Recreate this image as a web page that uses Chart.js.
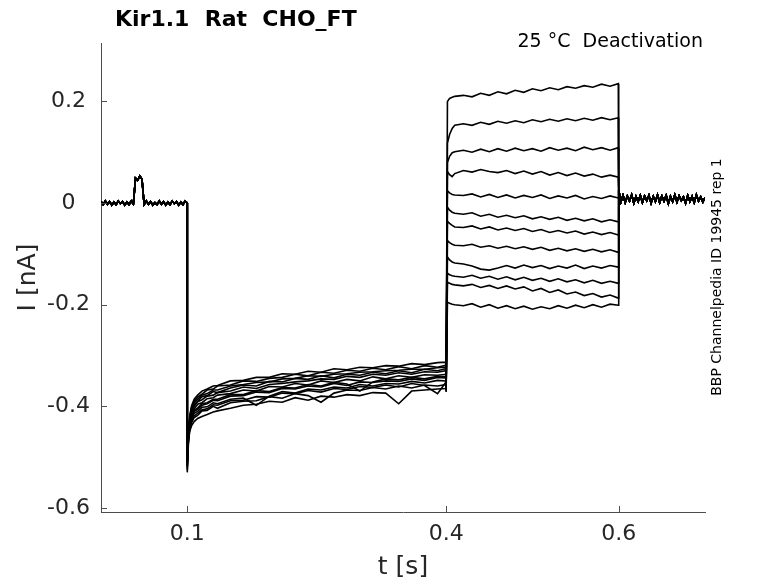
<!DOCTYPE html>
<html>
<head>
<meta charset="utf-8">
<script src="https://cdn.jsdelivr.net/npm/chart.js@4/dist/chart.umd.min.js"></script>
<style>
  html, body { margin: 0; padding: 0; background: #fff; }
  canvas { display: block; }
</style>
</head>
<body>
<canvas id="traces" width="778" height="583"></canvas>
<script>
// Kir1.1 deactivation sweeps, currents in pA
const xTicks = [0.1, 0.4, 0.6];
const xTickLabels = ["0.1", "0.4", "0.6"];
const yTicks = [-0.6, -0.4, -0.2, 0, 0.2];
const yTickLabels = ["-0.6", "-0.4", "-0.2", "0", "0.2"];

// holding period, shared by all sweeps (sample times every 2.5 ms)
const preT = Array.from({ length: 41 }, (_, i) => i * 0.0025);
const prePA = [3, -3, 4, -2, 3, -4, 2, -3, 4, -1, 3, -4, 2, -3, 4, -2,
  49, 45, 53, 47,
  -3, 4, -2, 3, -4, 1, -3, 4, -2, 3, -4, 2, -3, 4, -1, 3, -4, 2, -3, 4, 0];

// hyperpolarising step 0.1 - 0.4 s
const hypT = [0.1, 0.1015, 0.103, 0.105, 0.108, 0.112, 0.117, 0.123, 0.13,
  0.135, 0.15, 0.165, 0.18, 0.195, 0.21, 0.225, 0.24, 0.255, 0.27, 0.285,
  0.3, 0.315, 0.33, 0.345, 0.36, 0.375, 0.39, 0.3995];
const hypPA = [
  [-530, -450, -425, -410, -397, -390, -381, -379, -371, -373, -364, -358, -360, -351, -352, -345, -347, -340, -344, -337, -339, -333, -336, -330, -334, -327, -330, -326],
  [-505, -457, -436, -422, -410, -406, -398, -395, -388, -389, -380, -379, -372, -373, -365, -366, -360, -362, -355, -359, -352, -353, -350, -351, -346, -349, -343, -344],
  [-515, -446, -420, -402, -390, -382, -376, -368, -366, -360, -358, -350, -351, -345, -343, -337, -340, -333, -335, -329, -331, -325, -328, -322, -326, -320, -323, -319],
  [-498, -462, -443, -432, -422, -418, -409, -408, -400, -404, -393, -390, -389, -381, -384, -375, -379, -392, -374, -368, -369, -363, -366, -360, -364, -358, -360, -357],
  [-520, -452, -430, -414, -405, -396, -393, -385, -383, -378, -375, -368, -370, -361, -362, -355, -358, -350, -353, -347, -350, -342, -346, -340, -343, -338, -339, -337],
  [-510, -459, -439, -425, -414, -410, -402, -401, -393, -395, -386, -384, -398, -380, -371, -374, -366, -368, -362, -364, -357, -360, -355, -356, -351, -354, -349, -350],
  [-502, -444, -417, -399, -386, -378, -370, -366, -360, -359, -350, -349, -343, -343, -336, -337, -331, -333, -326, -328, -323, -324, -320, -321, -316, -318, -314, -313],
  [-525, -466, -448, -438, -430, -424, -420, -416, -411, -409, -404, -398, -396, -390, -392, -383, -388, -380, -382, -377, -379, -373, -374, -395, -370, -368, -366, -365],
  [-508, -451, -427, -411, -400, -391, -387, -380, -378, -373, -370, -362, -365, -357, -355, -352, -350, -346, -347, -341, -343, -337, -339, -334, -337, -332, -333, -330],
  [-512, -456, -434, -420, -408, -403, -395, -393, -386, -386, -377, -377, -369, -371, -363, -364, -357, -360, -353, -356, -370, -352, -346, -348, -343, -346, -341, -342],
  [-500, -448, -422, -406, -393, -386, -378, -375, -368, -368, -360, -357, -353, -352, -346, -345, -340, -341, -337, -336, -333, -332, -330, -329, -327, -327, -324, -323],
  [-518, -461, -441, -429, -419, -414, -407, -405, -397, -398, -389, -388, -381, -382, -374, -375, -369, -372, -365, -367, -361, -363, -358, -362, -355, -359, -375, -353]
];

// test steps 0.4 - 0.6 s
const testT = [0.4, 0.4015, 0.404, 0.407, 0.41, 0.42, 0.43, 0.44, 0.45, 0.46,
  0.47, 0.48, 0.49, 0.5, 0.51, 0.52, 0.53, 0.54, 0.55, 0.56, 0.57, 0.58, 0.59, 0.5995];
const testPA = [
  [-362, 200, 206, 208, 210, 212, 209, 216, 212, 219, 215, 222, 218, 225, 221, 227, 223, 229, 226, 231, 228, 234, 230, 235],
  [-355, 118, 135, 147, 153, 156, 153, 159, 155, 161, 157, 162, 158, 164, 160, 165, 161, 166, 162, 167, 163, 168, 164, 168],
  [-368, 80, 92, 99, 101, 104, 100, 106, 101, 107, 102, 108, 103, 107, 102, 109, 104, 108, 103, 110, 105, 109, 104, 109],
  [-350, 62, 56, 52, 58, 64, 61, 66, 62, 60, 64, 58, 63, 57, 62, 55, 60, 54, 59, 53, 57, 51, 55, 51],
  [-365, 24, 20, 17, 16, 15, 18, 12, 17, 11, 16, 10, 15, 11, 16, 9, 14, 10, 15, 8, 13, 9, 14, 10],
  [-358, -8, -14, -18, -20, -22, -19, -26, -22, -28, -24, -29, -25, -31, -27, -32, -28, -34, -30, -35, -31, -37, -33, -37],
  [-372, -36, -40, -44, -47, -48, -45, -51, -47, -53, -49, -54, -50, -56, -52, -58, -54, -59, -55, -61, -57, -62, -58, -63],
  [-352, -74, -78, -81, -83, -84, -81, -87, -84, -89, -85, -90, -86, -91, -87, -93, -89, -94, -90, -95, -91, -96, -92, -97],
  [-366, -106, -112, -116, -118, -120, -124, -130, -132, -128, -123, -128, -122, -127, -123, -129, -124, -128, -122, -129, -124, -128, -123, -126],
  [-360, -138, -141, -143, -144, -146, -142, -148, -144, -150, -145, -151, -146, -152, -148, -154, -149, -155, -151, -157, -152, -158, -154, -158],
  [-370, -156, -158, -160, -161, -163, -160, -166, -162, -168, -163, -169, -165, -173, -168, -176, -171, -179, -175, -182, -178, -185, -181, -187],
  [-362, -195, -197, -199, -200, -202, -198, -205, -200, -207, -202, -208, -203, -209, -204, -208, -202, -207, -201, -206, -200, -205, -199, -201]
];

// return to holding, shared by all sweeps
const tailT = Array.from({ length: 41 }, (_, i) => 0.6 + i * 0.0025);
const tailPA = [26, 2, 15, 1, 14, 4, 16, 0, 13, 3, 15, 1, 14, 5, 15, 0, 13, 3, 16, 1,
  14, 4, 15, -1, 13, 3, 16, 2, 14, 5, 12, 0, 15, 3, 13, 1, 16, 4, 12, 2, 11];

function pts(ts, vals) {
  return ts.map((t, i) => ({ x: t, y: vals[i] / 1000 }));
}

const datasets = hypPA.map((h, k) => ({
  data: [...pts(preT, prePA), ...pts(hypT, h), ...pts(testT, testPA[k]), ...pts(tailT, tailPA)],
  borderColor: "#000",
  borderWidth: 1.6,
  pointRadius: 0,
  fill: false,
  tension: 0
}));

Chart.defaults.font.family = "DejaVu Sans";
Chart.defaults.color = "#262626";

const extras = {
  id: "extras",
  afterDraw(chart) {
    const { ctx, chartArea: a, scales: { x, y } } = chart;
    ctx.save();
    // inward tick marks
    ctx.strokeStyle = "#4d4d4d";
    ctx.lineWidth = 1;
    ctx.beginPath();
    x.ticks.forEach(t => {
      const p = Math.round(x.getPixelForValue(t.value)) + 0.5;
      ctx.moveTo(p, a.bottom);
      ctx.lineTo(p, a.bottom - 6);
    });
    y.ticks.forEach(t => {
      const p = Math.round(y.getPixelForValue(t.value)) + 0.5;
      ctx.moveTo(a.left, p);
      ctx.lineTo(a.left + 6, p);
    });
    ctx.stroke();

    ctx.fillStyle = "#000";
    ctx.textBaseline = "alphabetic";
    ctx.font = "bold 22px 'DejaVu Sans'";
    ctx.textAlign = "left";
    ctx.fillText("Kir1.1  Rat  CHO_FT", 115, 26);

    ctx.font = "19px 'DejaVu Sans'";
    ctx.textAlign = "right";
    ctx.fillText("25 °C  Deactivation", 703, 47);

    ctx.font = "14px 'DejaVu Sans'";
    ctx.textAlign = "center";
    ctx.translate(721, 277);
    ctx.rotate(-Math.PI / 2);
    ctx.fillText("BBP Channelpedia ID 19945 rep 1", 0, 0);
    ctx.restore();
  }
};

new Chart(document.getElementById("traces"), {
  type: "line",
  data: { datasets: datasets },
  plugins: [extras],
  options: {
    responsive: false,
    animation: false,
    layout: { padding: { top: 43, right: 73, left: 0, bottom: 0 } },
    plugins: {
      legend: { display: false },
      tooltip: { enabled: false }
    },
    scales: {
      x: {
        type: "linear",
        min: 0,
        max: 0.7,
        afterBuildTicks: s => { s.ticks = xTicks.map(v => ({ value: v })); },
        afterFit: s => { s.height = 71; },
        ticks: {
          callback: (v, i) => xTickLabels[i],
          font: { size: 22 },
          padding: 9,
          maxRotation: 0
        },
        grid: { drawOnChartArea: false, drawTicks: false },
        border: { display: true, color: "#4d4d4d", width: 1 },
        title: { display: true, text: "t [s]", font: { size: 25 }, padding: { top: 0, bottom: 1 } }
      },
      y: {
        type: "linear",
        min: -0.608,
        max: 0.315,
        afterBuildTicks: s => { s.ticks = yTicks.map(v => ({ value: v })); },
        afterFit: s => { s.width = 101; },
        ticks: {
          callback: (v, i) => yTickLabels[i],
          font: { size: 22 },
          padding: 11,
          crossAlign: "center"
        },
        grid: { drawOnChartArea: false, drawTicks: false },
        border: { display: true, color: "#4d4d4d", width: 1 },
        title: { display: true, text: "I [nA]", font: { size: 25 }, padding: { top: 13, bottom: 0 } }
      }
    }
  }
});
</script>
</body>
</html>
